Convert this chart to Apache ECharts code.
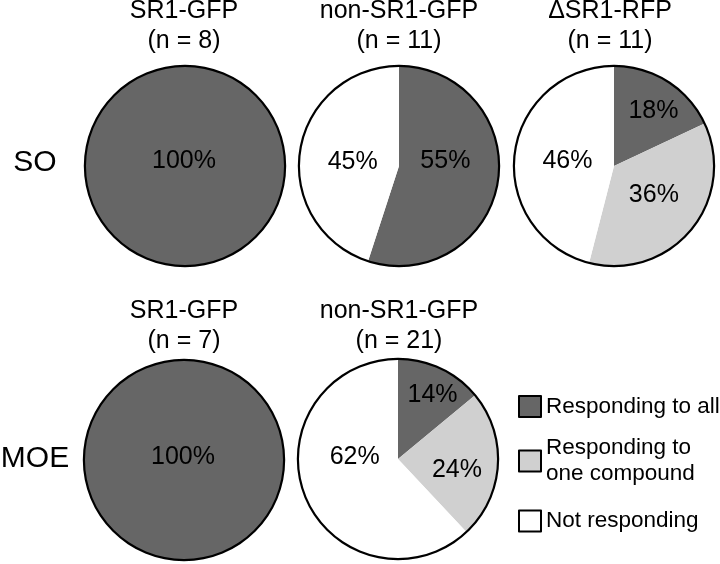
<!DOCTYPE html>
<html><head><meta charset="utf-8">
<script src="https://cdn.jsdelivr.net/npm/echarts@6/dist/echarts.min.js"></script>
<style>html,body{margin:0;padding:0;background:#fff}#chart{width:720px;height:564px}</style>
</head><body><div id="chart"></div>
<script>
// ---- data ----
const categories = ['Responding to all', 'Responding to\none compound', 'Not responding'];
const rowLabels = ['SO', 'MOE'];
const pieTitles = ['SR1-GFP', 'non-SR1-GFP', '\u0394SR1-RFP', 'SR1-GFP', 'non-SR1-GFP'];
const pieN = [8, 11, 11, 7, 21];
const so_SR1GFP = [100, 0, 0];
const so_nonSR1GFP = [55, 0, 45];
const so_dSR1RFP = [18, 36, 46];
const moe_SR1GFP = [100, 0, 0];
const moe_nonSR1GFP = [14, 24, 62];
const pieValues = [so_SR1GFP, so_nonSR1GFP, so_dSR1RFP, moe_SR1GFP, moe_nonSR1GFP];

// ---- style / layout ----
const FONT = '"Liberation Sans", Arial, Helvetica, sans-serif';
const colors = ['#666666', '#d0d0d0', '#ffffff'];
const R = 100;
const pieCenters = [[185, 166], [399, 166], [614, 166], [184, 460], [398, 459]];
const rowLabelPos = [[35, 163], [35, 459]];
const titleY = [26.5, 26.5, 26.5, 326.5, 326.5];
const titleX = [184, 399, 610, 184, 399];
const labelNudge = [
  [[-1, -5], [0, 0], [0, 0]],
  [[-6, -13], [0, 0], [6, 4]],
  [[11, -10], [-1, -5], [6, 2]],
  [[-1, -3], [0, 0], [0, 0]],
  [[12, -16], [6, 8], [6, -21]]
];
const legendTops = [393.5, 435, 508];

const series = [];
pieValues.forEach((vals, i) => {
  const nonZero = vals.filter(v => v > 0).length;
  series.push({
    type: 'pie',
    center: pieCenters[i],
    radius: R,
    startAngle: 90,
    clockwise: true,
    silent: true,
    emphasis: {disabled: true},
    itemStyle: {borderWidth: 0},
    label: {
      show: true,
      position: nonZero === 1 ? 'center' : 'inside',
      formatter: '{c}%',
      color: '#000',
      fontSize: 25,
      fontFamily: FONT
    },
    labelLine: {show: false},
    labelLayout: (p) => ({dx: labelNudge[i][p.dataIndex][0], dy: labelNudge[i][p.dataIndex][1]}),
    data: vals.map((v, k) => ({
      name: categories[k],
      value: v,
      itemStyle: {color: colors[k]},
      label: {show: v > 0}
    }))
  });
  series.push({
    type: 'pie',
    center: pieCenters[i],
    radius: [R - 1, R + 1.2],
    silent: true,
    emphasis: {disabled: true},
    label: {show: false},
    labelLine: {show: false},
    itemStyle: {color: '#000', borderWidth: 0},
    data: [{name: 'ring' + i, value: 1}]
  });
});

const graphic = [];
pieTitles.forEach((t, i) => {
  graphic.push({
    type: 'text', x: titleX[i], y: titleY[i], silent: true,
    style: {text: t + '\n(n = ' + pieN[i] + ')', align: 'center', verticalAlign: 'middle',
      fontSize: 25, fontFamily: FONT, lineHeight: 30, fill: '#000'}
  });
});
rowLabels.forEach((t, i) => {
  graphic.push({
    type: 'text', x: rowLabelPos[i][0], y: rowLabelPos[i][1], silent: true,
    style: {text: t, align: 'center', verticalAlign: 'middle', fontSize: 30, fontFamily: FONT, fill: '#000'}
  });
});

const legend = categories.map((c, k) => ({
  data: [c],
  left: 518,
  top: legendTops[k],
  padding: 0,
  orient: 'vertical',
  icon: 'rect',
  itemWidth: 22,
  itemHeight: 21,
  selectedMode: false,
  itemStyle: {borderColor: '#000', borderWidth: 2},
  textStyle: {fontSize: 22.5, fontFamily: FONT, color: '#000', lineHeight: 26}
}));

const chart = echarts.init(document.getElementById('chart'), null, {renderer: 'canvas'});
chart.setOption({
  backgroundColor: '#ffffff',
  animation: false,
  legend: legend,
  graphic: graphic,
  series: series
});
</script>
</body></html>
